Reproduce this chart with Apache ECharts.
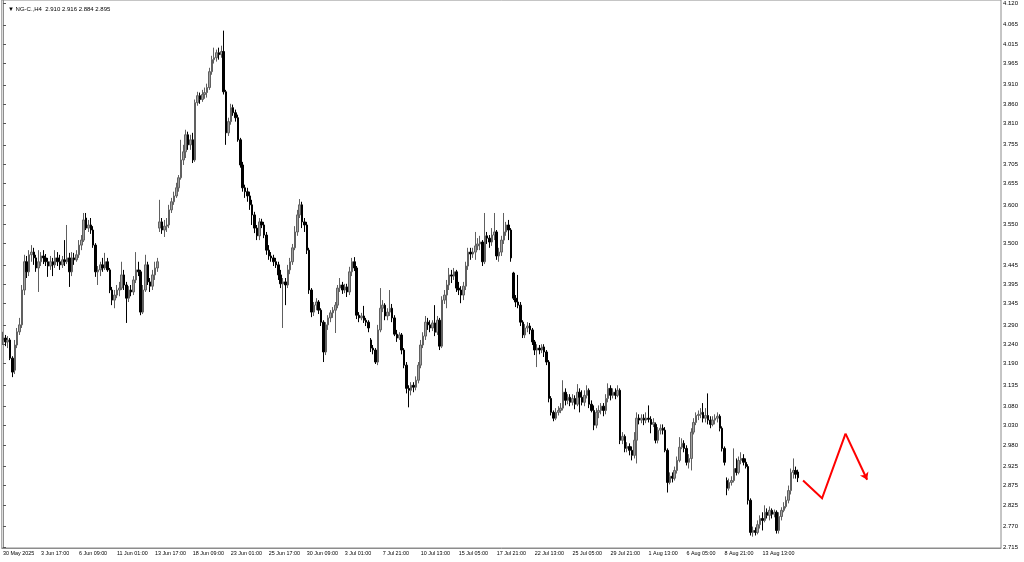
<!DOCTYPE html>
<html><head><meta charset="utf-8">
<script src="https://cdn.jsdelivr.net/npm/echarts@6/dist/echarts.min.js"></script>
<style>html,body{margin:0;padding:0;background:#fff}#c{width:1024px;height:562px}</style>
</head><body><div id="c"></div>
<script>
const symbolName = 'NG-C.';
const timeframe = 'H4';
const xTickLabels = ['30 May 2025','3 Jun 17:00','6 Jun 09:00','11 Jun 01:00','13 Jun 17:00','18 Jun 09:00','23 Jun 01:00','25 Jun 17:00','30 Jun 09:00','3 Jul 01:00','7 Jul 21:00','10 Jul 13:00','15 Jul 05:00','17 Jul 21:00','22 Jul 13:00','25 Jul 05:00','29 Jul 21:00','1 Aug 13:00','6 Aug 05:00','8 Aug 21:00','13 Aug 13:00'];
const yTickLabels = ['4.120','4.065','4.015','3.965','3.910','3.860','3.810','3.755','3.705','3.655','3.600','3.550','3.500','3.445','3.395','3.345','3.290','3.240','3.190','3.135','3.080','3.030','2.980','2.925','2.875','2.825','2.770','2.715'];

const opens = [
3.251,3.256,3.246,3.251,3.204,3.173,3.238,3.272,3.290,3.380,
3.453,3.427,3.471,3.478,3.463,3.437,3.453,3.468,3.463,3.453,
3.442,3.453,3.445,3.463,3.453,3.445,3.458,3.453,3.463,3.427,
3.463,3.458,3.471,3.496,3.509,3.566,3.540,3.548,3.535,3.496,
3.427,3.432,3.445,3.437,3.453,3.432,3.380,3.354,3.367,3.380,
3.385,3.419,3.393,3.359,3.380,3.375,3.406,3.432,3.427,3.323,
3.380,3.445,3.401,3.390,3.419,3.437,3.540,3.556,3.535,3.545,
3.548,3.587,3.608,3.623,3.644,3.670,3.716,3.737,3.781,3.755,
3.768,3.716,3.864,3.882,3.872,3.885,3.890,3.903,3.944,3.975,
3.980,3.993,3.988,3.996,3.892,3.786,3.815,3.851,3.838,3.825,
3.768,3.703,3.644,3.634,3.623,3.600,3.574,3.540,3.520,3.556,
3.548,3.522,3.483,3.468,3.463,3.453,3.445,3.419,3.396,3.401,
3.393,3.432,3.453,3.489,3.530,3.574,3.600,3.556,3.548,3.483,
3.380,3.323,3.341,3.349,3.328,3.297,3.220,3.290,3.308,3.321,
3.328,3.341,3.385,3.393,3.380,3.388,3.375,3.427,3.453,3.437,
3.315,3.308,3.313,3.302,3.297,3.251,3.230,3.225,3.194,3.277,
3.333,3.341,3.313,3.323,3.333,3.308,3.266,3.256,3.264,3.225,
3.186,3.126,3.121,3.134,3.129,3.147,3.186,3.238,3.261,3.297,
3.290,3.282,3.295,3.271,3.302,3.235,3.354,3.367,3.393,3.419,
3.416,3.427,3.385,3.380,3.367,3.390,3.442,3.478,3.473,3.478,
3.494,3.499,3.504,3.453,3.520,3.514,3.504,3.522,3.530,3.468,
3.478,3.509,3.530,3.548,3.535,3.424,3.359,3.349,3.341,3.297,
3.264,3.282,3.287,3.277,3.246,3.225,3.230,3.225,3.233,3.220,
3.194,3.100,3.064,3.049,3.064,3.069,3.075,3.116,3.095,3.103,
3.090,3.100,3.085,3.116,3.103,3.090,3.108,3.121,3.085,3.069,
3.031,3.064,3.069,3.080,3.069,3.100,3.126,3.108,3.116,3.108,
3.121,2.992,3.002,2.971,2.976,2.966,2.953,2.992,3.049,3.044,
3.049,3.044,3.049,3.046,3.033,3.033,2.992,3.018,3.023,3.018,
2.966,2.883,2.899,2.894,2.914,2.940,2.974,2.984,2.971,2.935,
2.945,3.013,3.038,3.056,3.059,3.064,3.049,3.056,3.044,3.033,
3.044,3.049,3.054,3.023,2.971,2.888,2.868,2.883,2.888,2.919,
2.909,2.940,2.945,2.935,2.924,2.837,2.754,2.759,2.754,2.774,
2.790,2.785,2.806,2.798,2.811,2.801,2.806,2.759,2.795,2.811,
2.821,2.837,2.862,2.909,2.914,2.910];

const closes = [
3.256,3.246,3.251,3.204,3.168,3.238,3.272,3.290,3.380,3.453,
3.427,3.471,3.478,3.463,3.437,3.453,3.468,3.463,3.453,3.442,
3.453,3.445,3.463,3.453,3.445,3.458,3.453,3.463,3.427,3.463,
3.458,3.471,3.496,3.509,3.561,3.540,3.548,3.535,3.496,3.427,
3.432,3.445,3.437,3.453,3.432,3.380,3.354,3.367,3.380,3.385,
3.419,3.393,3.359,3.380,3.375,3.406,3.432,3.427,3.323,3.380,
3.445,3.401,3.390,3.419,3.437,3.453,3.556,3.535,3.545,3.548,
3.587,3.608,3.623,3.644,3.670,3.716,3.737,3.781,3.755,3.768,
3.716,3.864,3.882,3.872,3.885,3.890,3.903,3.944,3.975,3.980,
3.993,3.988,3.996,3.892,3.786,3.815,3.851,3.838,3.825,3.768,
3.703,3.644,3.634,3.623,3.600,3.574,3.540,3.520,3.556,3.548,
3.522,3.483,3.468,3.463,3.453,3.445,3.419,3.396,3.401,3.393,
3.432,3.453,3.489,3.530,3.574,3.600,3.556,3.548,3.483,3.380,
3.323,3.341,3.349,3.328,3.297,3.220,3.290,3.308,3.321,3.328,
3.341,3.385,3.393,3.380,3.388,3.375,3.427,3.453,3.437,3.315,
3.308,3.313,3.302,3.297,3.282,3.230,3.225,3.194,3.277,3.333,
3.341,3.313,3.323,3.333,3.308,3.266,3.256,3.264,3.225,3.186,
3.126,3.121,3.134,3.129,3.147,3.186,3.238,3.261,3.297,3.290,
3.282,3.295,3.271,3.302,3.235,3.354,3.367,3.393,3.419,3.416,
3.427,3.385,3.380,3.367,3.390,3.442,3.478,3.473,3.478,3.494,
3.499,3.504,3.453,3.520,3.514,3.504,3.522,3.530,3.468,3.478,
3.509,3.530,3.548,3.535,3.463,3.359,3.349,3.341,3.297,3.264,
3.282,3.287,3.277,3.246,3.225,3.230,3.225,3.233,3.220,3.194,
3.100,3.064,3.049,3.064,3.069,3.075,3.116,3.095,3.103,3.090,
3.100,3.085,3.116,3.103,3.090,3.108,3.121,3.085,3.069,3.031,
3.064,3.069,3.080,3.069,3.100,3.126,3.108,3.116,3.108,3.121,
2.992,3.002,2.971,2.976,2.966,2.953,2.992,3.049,3.044,3.049,
3.044,3.049,3.046,3.033,3.038,2.992,3.018,3.023,3.018,2.966,
2.883,2.899,2.894,2.914,2.940,2.974,2.984,2.971,2.935,2.945,
3.013,3.038,3.056,3.059,3.064,3.049,3.056,3.044,3.033,3.044,
3.049,3.054,3.023,2.971,2.935,2.868,2.883,2.888,2.919,2.909,
2.940,2.945,2.935,2.924,2.837,2.754,2.759,2.754,2.774,2.790,
2.785,2.806,2.798,2.811,2.801,2.806,2.759,2.795,2.811,2.821,
2.837,2.862,2.909,2.914,2.904,2.895];

const lows = [
3.238,3.235,3.230,3.199,3.155,3.163,3.230,3.264,3.282,3.367,
3.411,3.416,3.453,3.445,3.427,3.375,3.442,3.447,3.442,3.414,
3.432,3.416,3.437,3.442,3.432,3.437,3.442,3.447,3.388,3.416,
3.445,3.453,3.463,3.483,3.504,3.535,3.530,3.525,3.489,3.414,
3.393,3.416,3.427,3.432,3.427,3.372,3.341,3.333,3.359,3.364,
3.380,3.380,3.295,3.349,3.364,3.367,3.398,3.416,3.315,3.318,
3.375,3.393,3.375,3.380,3.406,3.427,3.530,3.525,3.517,3.530,
3.540,3.579,3.600,3.618,3.634,3.665,3.703,3.721,3.742,3.742,
3.708,3.711,3.856,3.861,3.866,3.874,3.877,3.897,3.936,3.965,
3.970,3.975,3.980,3.885,3.755,3.778,3.807,3.830,3.815,3.763,
3.696,3.634,3.618,3.608,3.587,3.548,3.527,3.509,3.509,3.540,
3.514,3.471,3.458,3.453,3.442,3.437,3.406,3.385,3.282,3.341,
3.385,3.421,3.445,3.483,3.520,3.566,3.540,3.530,3.473,3.370,
3.310,3.313,3.328,3.318,3.287,3.194,3.212,3.277,3.297,3.308,
3.269,3.333,3.375,3.370,3.372,3.362,3.367,3.416,3.429,3.305,
3.297,3.302,3.295,3.287,3.271,3.220,3.214,3.189,3.186,3.271,
3.323,3.302,3.302,3.313,3.297,3.261,3.246,3.251,3.214,3.178,
3.113,3.077,3.108,3.116,3.121,3.139,3.178,3.230,3.251,3.277,
3.271,3.274,3.261,3.264,3.225,3.230,3.344,3.333,3.380,3.398,
3.406,3.375,3.367,3.346,3.354,3.380,3.432,3.458,3.463,3.458,
3.483,3.483,3.442,3.447,3.499,3.489,3.494,3.509,3.458,3.453,
3.468,3.499,3.520,3.509,3.453,3.354,3.336,3.333,3.287,3.256,
3.256,3.271,3.266,3.238,3.212,3.181,3.214,3.217,3.207,3.186,
3.090,3.056,3.041,3.044,3.056,3.062,3.069,3.082,3.085,3.080,
3.082,3.072,3.080,3.064,3.082,3.080,3.100,3.075,3.064,3.018,
3.023,3.049,3.059,3.054,3.059,3.090,3.095,3.100,3.098,3.103,
2.982,2.982,2.961,2.961,2.953,2.940,2.945,2.932,3.033,3.036,
3.031,3.036,3.038,3.010,3.026,2.984,2.984,3.007,3.007,2.961,
2.857,2.878,2.883,2.888,2.906,2.935,2.969,2.961,2.927,2.919,
2.914,3.007,3.031,3.044,3.049,3.038,3.038,3.033,3.023,3.028,
3.033,3.038,3.015,2.963,2.927,2.850,2.862,2.875,2.883,2.901,
2.904,2.930,2.927,2.919,2.826,2.746,2.743,2.746,2.749,2.764,
2.759,2.780,2.790,2.785,2.790,2.793,2.751,2.751,2.785,2.806,
2.816,2.829,2.852,2.893,2.893,2.884];

const highs = [
3.272,3.264,3.261,3.256,3.209,3.251,3.282,3.308,3.393,3.471,
3.468,3.483,3.496,3.489,3.471,3.483,3.478,3.483,3.473,3.463,
3.468,3.463,3.483,3.478,3.471,3.468,3.509,3.548,3.476,3.478,
3.476,3.483,3.509,3.522,3.579,3.579,3.561,3.566,3.545,3.501,
3.442,3.453,3.463,3.476,3.463,3.437,3.388,3.380,3.393,3.401,
3.453,3.432,3.401,3.390,3.393,3.416,3.478,3.453,3.432,3.393,
3.471,3.453,3.411,3.432,3.453,3.463,3.613,3.566,3.561,3.566,
3.600,3.618,3.634,3.657,3.677,3.768,3.755,3.794,3.789,3.781,
3.786,3.872,3.892,3.890,3.897,3.903,3.913,3.954,3.985,4.006,
4.001,4.006,4.011,4.050,3.897,3.825,3.861,3.859,3.846,3.833,
3.773,3.711,3.652,3.644,3.634,3.613,3.582,3.548,3.566,3.564,
3.556,3.530,3.496,3.478,3.471,3.463,3.453,3.432,3.411,3.411,
3.445,3.463,3.499,3.545,3.587,3.615,3.608,3.566,3.556,3.489,
3.385,3.349,3.359,3.354,3.333,3.302,3.297,3.315,3.328,3.336,
3.349,3.393,3.411,3.401,3.396,3.396,3.440,3.463,3.465,3.442,
3.323,3.321,3.339,3.308,3.302,3.256,3.238,3.230,3.290,3.385,
3.354,3.346,3.333,3.380,3.344,3.315,3.277,3.271,3.269,3.230,
3.194,3.134,3.142,3.142,3.157,3.194,3.251,3.271,3.313,3.308,
3.302,3.302,3.341,3.313,3.308,3.364,3.380,3.406,3.437,3.432,
3.437,3.432,3.401,3.390,3.401,3.453,3.489,3.489,3.489,3.530,
3.514,3.520,3.509,3.579,3.530,3.522,3.540,3.579,3.535,3.489,
3.520,3.579,3.556,3.561,3.540,3.427,3.367,3.419,3.349,3.302,
3.292,3.297,3.295,3.282,3.251,3.240,3.238,3.240,3.240,3.225,
3.199,3.106,3.069,3.075,3.080,3.088,3.147,3.126,3.111,3.111,
3.111,3.108,3.137,3.126,3.121,3.121,3.134,3.126,3.095,3.082,
3.075,3.082,3.088,3.088,3.111,3.139,3.134,3.126,3.126,3.134,
3.126,3.013,3.007,2.987,2.984,2.976,3.013,3.064,3.059,3.059,
3.059,3.064,3.082,3.054,3.049,3.038,3.026,3.033,3.033,3.026,
2.971,2.909,2.909,2.924,2.950,3.000,2.997,2.992,2.979,2.956,
3.023,3.049,3.064,3.069,3.075,3.088,3.075,3.113,3.054,3.054,
3.059,3.064,3.059,3.028,2.976,2.896,2.893,2.899,2.971,2.945,
2.950,2.961,2.956,2.945,2.930,2.842,2.769,2.767,2.785,2.798,
2.806,2.824,2.816,2.821,2.816,2.813,2.811,2.806,2.819,2.832,
2.847,2.875,2.919,2.945,2.924,2.916];

// red hand-drawn forecast arrow, in (bar index, price)
const arrowPath = [[337.1, 2.888], [345.1, 2.842], [355.0, 3.009], [364.1, 2.890]];

const slotCount = 421;     // bar slots across the plot (incl. empty right margin)
const labelStep = 16;      // bars between time labels
const fontFam = '"Liberation Sans", Arial, sans-serif';

const categories = [];
for (let i = 0; i < slotCount; i++) {
  categories.push(i % labelStep === 0 && xTickLabels[i / labelStep] ? xTickLabels[i / labelStep] : '');
}
const showLabel = (i) => i % labelStep === 0 && i / labelStep < xTickLabels.length;
const candleData = opens.map((o, i) => [o, closes[i], lows[i], highs[i]]);
const last = opens.length - 1;

const chart = echarts.init(document.getElementById('c'), null, { renderer: 'canvas' });
chart.setOption({
  animation: false,
  backgroundColor: '#ffffff',
  title: {
    text: '\u25BC ' + symbolName + ',' + timeframe + '  ' + opens[last].toFixed(3) + ' ' + highs[last].toFixed(3) + ' ' + lows[last].toFixed(3) + ' ' + closes[last].toFixed(3),
    left: 3, top: 1,
    textStyle: { fontSize: 6, fontWeight: 'normal', color: '#000', fontFamily: fontFam }
  },
  grid: { left: 1, right: 23, top: 0, bottom: 14, show: true, borderColor: '#8c8c8c', borderWidth: 1, backgroundColor: '#fff' },
  xAxis: [{
    type: 'category', data: categories, boundaryGap: true,
    axisLine: { lineStyle: { color: '#8c8c8c', width: 1 } },
    axisTick: { interval: showLabel, alignWithLabel: true, length: 3, lineStyle: { color: '#555' } },
    axisLabel: { interval: showLabel, align: 'left', fontSize: 5.4, color: '#000', margin: 3, fontFamily: fontFam },
    splitLine: { show: false }
  }, {
    type: 'value', min: -0.5, max: slotCount - 0.5, show: false
  }],
  yAxis: {
    type: 'value', position: 'right', min: 2.7137, max: 4.1291, scale: true,
    axisLine: { show: true, lineStyle: { color: '#8c8c8c', width: 1 } },
    axisTick: { show: true, length: 3, customValues: yTickLabels.map(Number), lineStyle: { color: '#555' } },
    axisLabel: { customValues: yTickLabels.map(Number), formatter: (v) => v.toFixed(3), fontSize: 6, color: '#000', margin: 2, fontFamily: fontFam, showMinLabel: true, showMaxLabel: true },
    splitLine: { show: false }
  },
  series: [{
    type: 'candlestick',
    data: candleData,
    barWidth: 2,
    itemStyle: { color: '#a0a0a0', color0: '#000000', borderColor: '#606060', borderColor0: '#000000', borderWidth: 1 },
    markLine: {
      silent: true, symbol: ['none', 'none'],
      lineStyle: { opacity: 0 },
      data: [{ yAxis: closes[last] }],
      label: { show: true, position: 'end', distance: 1, formatter: (p) => Number(p.value).toFixed(3), color: '#fff', backgroundColor: '#000', fontSize: 6, padding: [1, 2, 1, 2], fontFamily: fontFam }
    }
  }, {
    type: 'lines', coordinateSystem: 'cartesian2d', xAxisIndex: 1, yAxisIndex: 0,
    polyline: true, silent: true,
    lineStyle: { color: '#ff0000', width: 2, opacity: 1 },
    data: [{ coords: arrowPath.slice(0, 3) }]
  }, {
    type: 'lines', coordinateSystem: 'cartesian2d', xAxisIndex: 1, yAxisIndex: 0,
    silent: true, symbol: ['none', 'arrow'], symbolSize: 7,
    lineStyle: { color: '#ff0000', width: 2, opacity: 1 },
    data: [{ coords: arrowPath.slice(2, 4) }]
  }]
});
</script>
</body></html>
